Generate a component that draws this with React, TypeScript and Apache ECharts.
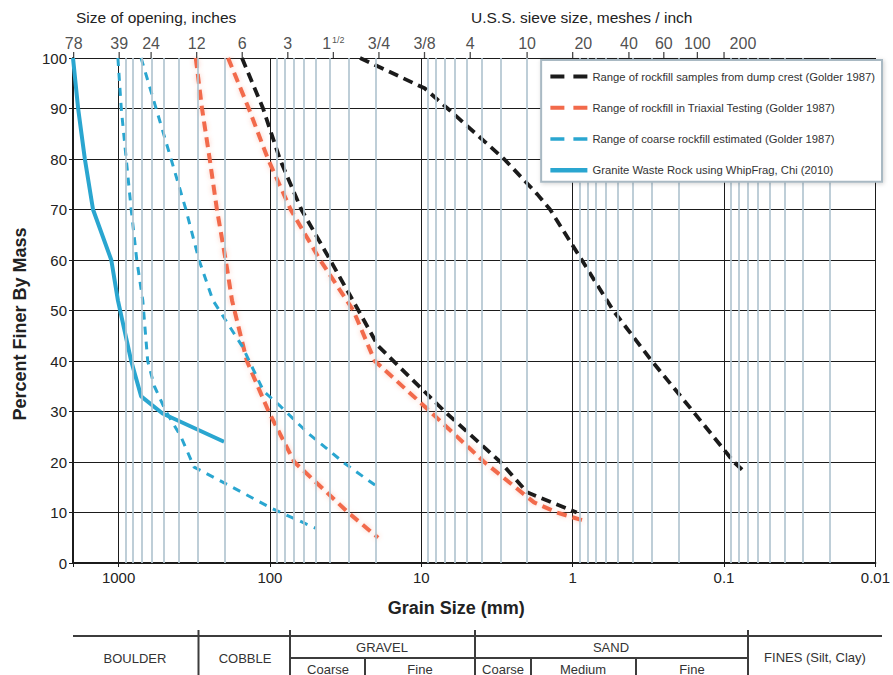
import React, { useEffect, useRef } from "react";
import * as echarts from "echarts";

// ---- data (grain size mm, percent finer) ----
const dumpCrestCoarse = [[153, 100], [111, 90], [86, 80], [62, 70], [40, 60], [26, 50], [19.3, 43], [7.0, 30], [3.0, 20], [2.0, 14], [0.94, 10]];
const dumpCrestFine = [[25.4, 100], [9.5, 94], [6.7, 90], [2.84, 80], [1.71, 73], [1.41, 70], [0.87, 60], [0.54, 50], [0.3, 40], [0.16, 30], [0.086, 20], [0.073, 18]];
const triaxialCoarse = [[309, 100], [281, 90], [250, 80], [224, 70], [196, 60], [178, 52], [142, 40], [102, 30], [69, 20], [30.4, 10], [19.3, 5]];
const triaxialFine = [[189, 100], [138, 90], [103, 80], [73, 70], [46.6, 60], [28.1, 50], [20.3, 40], [9.5, 31], [3.84, 20], [1.8, 12], [1.27, 10], [0.85, 8.4]];
const estimatedCoarse = [[1010, 100], [960, 90], [890, 80], [825, 70], [758, 60], [692, 52], [642, 40], [580, 35], [486, 30], [387, 25], [317, 19], [177, 15], [97, 10.8], [50, 6.9]];
const estimatedFine = [[710, 100], [565, 90], [450, 80], [359, 70], [294, 60], [238, 52], [153, 43], [110, 34], [85, 31], [56, 25.7], [32, 19.7], [19.3, 15]];
const whipFrag = [[2000, 100], [1850, 90], [1670, 80], [1475, 70], [1117, 60], [1010, 52], [825, 40], [709, 33], [512, 29.6], [201, 24]];

const seriesNames = [
  "Range of rockfill samples from dump crest (Golder 1987)",
  "Range of rockfill in Triaxial Testing (Golder 1987)",
  "Range of coarse rockfill estimated (Golder 1987)",
  "Granite Waste Rock using WhipFrag, Chi (2010)",
];

// top axis: opening sizes (inches) and sieve numbers, with their size in mm
const inchLabels = ["78", "39", "24", "12", "6", "3", "1 1/2", "3/4", "3/8"];
const inchMm = [1981.2, 990.6, 609.6, 304.8, 152.4, 76.2, 38.1, 19.05, 9.525];
const sieveLabels = ["4", "10", "20", "40", "60", "100", "200"];
const sieveMm = [4.75, 2.0, 0.85, 0.425, 0.25, 0.15, 0.075];
const topTickMm = [1981.2, 990.6, 609.6, 304.8, 152.4, 76.2, 38.1, 19.05, 9.525, 4.75, 2.0, 1, 0.425, 0.25, 0.15, 0.1];

// minor grid (2..9 within each decade)
const decades = [100, 10, 1, 0.1, 0.01];
const multipliers = [2, 3, 4, 5, 6, 7, 8, 9];

const FONT = "'Liberation Sans', Arial, Helvetica, sans-serif";
const BLACK = "#1b1b1b";
const RED = "#f26a4b";
const CYAN = "#2aa6d0";
const MINOR = "#b3c6d1";

export default function App() {
  const ref = useRef<HTMLDivElement>(null);

  useEffect(() => {
    if (!ref.current) return;
    const chart = echarts.init(ref.current, undefined, { renderer: "svg" });

    const minorLines: any[] = [];
    decades.forEach((d) => multipliers.forEach((m) => minorLines.push({ xAxis: Number((d * m).toPrecision(4)) })));

    const dashedLine = (name: string, data: number[][], color: string, width: number, dash: number[], glow: boolean) => ({
      name,
      type: "line",
      data,
      symbol: "none",
      showSymbol: false,
      z: 3,
      lineStyle: {
        color,
        width,
        type: dash,
        cap: "butt",
        ...(glow ? { shadowColor: "rgba(242,106,75,0.35)", shadowBlur: 5 } : {}),
      },
      itemStyle: { color },
    });

    const topLabelData = [
      ...inchLabels.map((l, i) => ({ value: [inchMm[i], 100], name: l })),
      ...sieveLabels.map((l, i) => ({ value: [sieveMm[i], 100], name: l })),
    ];

    const tableLine = (x1: number, y1: number, x2: number, y2: number, w = 2) => ({
      type: "line",
      silent: true,
      shape: { x1, y1, x2, y2 },
      style: { stroke: "#3c3c3c", lineWidth: w },
    });
    const tableText = (text: string, x: number, y: number) => ({
      type: "text",
      silent: true,
      x,
      y,
      style: { text, fontSize: 13, fontFamily: FONT, fill: "#333", align: "center", verticalAlign: "middle" },
    });

    const legendData = [
      { name: seriesNames[0], lineStyle: { width: 4, type: [14, 9], color: BLACK } },
      { name: seriesNames[1], lineStyle: { width: 4, type: [14, 9], color: RED } },
      { name: seriesNames[2], lineStyle: { width: 3.5, type: [14, 9], color: CYAN } },
      { name: seriesNames[3], lineStyle: { width: 4.5, type: "solid", color: CYAN } },
    ];

    const option: any = {
      animation: false,
      backgroundColor: "#ffffff",
      textStyle: { fontFamily: FONT },
      grid: { left: 73, right: 13, top: 58, bottom: 112, containLabel: false },
      legend: {
        data: legendData,
        orient: "vertical",
        right: 11,
        top: 60,
        itemWidth: 37,
        itemHeight: 14,
        itemGap: 20,
        padding: [11, 7, 6, 7],
        backgroundColor: "#ffffff",
        borderColor: "#a9b9c3",
        borderWidth: 2,
        shadowColor: "rgba(0,0,0,0.18)",
        shadowBlur: 4,
        shadowOffsetX: 1,
        shadowOffsetY: 1,
        selectedMode: false,
        itemStyle: { opacity: 0 },
        textStyle: { fontSize: 11.25, color: "#333", fontFamily: FONT },
        z: 10,
      },
      xAxis: {
        type: "log",
        logBase: 10,
        min: 0.01,
        max: 2000,
        inverse: true,
        name: "Grain Size (mm)",
        nameLocation: "middle",
        nameGap: 36,
        nameTextStyle: { fontSize: 18, fontWeight: "bold", color: "#222", padding: [0, 36, 0, 0] },
        axisLine: { show: true, lineStyle: { color: BLACK, width: 2 } },
        axisTick: { show: true, length: 4, lineStyle: { color: BLACK } },
        axisLabel: {
          fontSize: 15,
          color: "#222",
          margin: 7,
          hideOverlap: false,
          formatter: (v: number) => {
            const l = Math.log10(v);
            if (Math.abs(l - Math.round(l)) > 1e-6) return "";
            return String(Number(v.toPrecision(3)));
          },
        },
        splitLine: { show: true, lineStyle: { color: BLACK, width: 1 } },
      },
      yAxis: {
        type: "value",
        min: 0,
        max: 100,
        interval: 10,
        z: 2,
        name: "Percent Finer By Mass",
        nameLocation: "middle",
        nameGap: 44,
        nameTextStyle: { fontSize: 18, fontWeight: "bold", color: "#222", padding: [0, 27, 0, 0] },
        axisLine: { show: true, lineStyle: { color: BLACK, width: 2 } },
        axisTick: { show: true, length: 4, lineStyle: { color: BLACK } },
        axisLabel: { fontSize: 15, color: "#222", margin: 6 },
        splitLine: { show: true, lineStyle: { color: BLACK, width: 1 } },
      },
      series: [
        {
          name: "minor-grid",
          type: "line",
          data: [],
          symbol: "none",
          z: 1,
          silent: true,
          markLine: {
            silent: true,
            symbol: "none",
            label: { show: false },
            animation: false,
            lineStyle: { color: MINOR, width: 1.7, type: "solid" },
            data: minorLines,
          },
        },
        dashedLine(seriesNames[0], dumpCrestCoarse, BLACK, 3.8, [10, 6], false),
        dashedLine(seriesNames[0], dumpCrestFine, BLACK, 3.8, [10, 6], false),
        dashedLine(seriesNames[1], triaxialCoarse, RED, 4, [10, 6], true),
        dashedLine(seriesNames[1], triaxialFine, RED, 4, [10, 6], true),
        dashedLine(seriesNames[2], estimatedCoarse, CYAN, 3, [8, 7], false),
        dashedLine(seriesNames[2], estimatedFine, CYAN, 3, [8, 7], false),
        {
          name: seriesNames[3],
          type: "line",
          data: whipFrag,
          symbol: "none",
          showSymbol: false,
          z: 3,
          lineStyle: { color: CYAN, width: 4, type: "solid" },
          itemStyle: { color: CYAN },
        },
        {
          name: "top-ticks",
          type: "scatter",
          data: topTickMm.map((m) => [m, 100]),
          symbol: "rect",
          symbolSize: [1.3, 6],
          symbolOffset: [0, -3],
          clip: false,
          silent: true,
          z: 4,
          itemStyle: { color: BLACK },
        },
        {
          name: "top-labels",
          type: "scatter",
          data: topLabelData,
          symbolSize: 1,
          clip: false,
          silent: true,
          z: 4,
          itemStyle: { color: "rgba(0,0,0,0)" },
          label: {
            show: true,
            position: "top",
            distance: 6,
            fontSize: 16,
            color: "#222",
            fontFamily: FONT,
            formatter: (p: any) => (p.name === "1 1/2" ? "{a|1}{b|1/2}" : p.name),
            rich: {
              a: { fontSize: 16, color: "#222", fontFamily: FONT },
              b: { fontSize: 9, color: "#222", fontFamily: FONT, padding: [0, 0, 7, 1] },
            },
          },
        },
      ],
      graphic: [
        {
          type: "text",
          silent: true,
          x: 76,
          y: 17,
          style: { text: "Size of opening, inches", fontSize: 15.5, fontFamily: FONT, fill: "#222", align: "left", verticalAlign: "middle" },
        },
        {
          type: "text",
          silent: true,
          x: 471,
          y: 17,
          style: { text: "U.S.S. sieve size, meshes / inch", fontSize: 15.5, fontFamily: FONT, fill: "#222", align: "left", verticalAlign: "middle" },
        },
        tableLine(73, 636, 882, 636, 2.2),
        tableLine(290, 658, 748, 658, 2),
        tableLine(198.5, 630, 198.5, 675),
        tableLine(290, 630, 290, 675),
        tableLine(475, 630, 475, 675),
        tableLine(748, 630, 748, 675),
        tableLine(365, 658, 365, 675),
        tableLine(531, 658, 531, 675),
        tableLine(636, 658, 636, 675),
        tableText("BOULDER", 135, 658),
        tableText("COBBLE", 245, 658),
        tableText("GRAVEL", 382, 647),
        tableText("SAND", 611, 647),
        tableText("Coarse", 328, 669),
        tableText("Fine", 420, 669),
        tableText("Coarse", 503, 669),
        tableText("Medium", 583, 669),
        tableText("Fine", 692, 669),
        tableText("FINES (Silt, Clay)", 815, 657),
      ],
    };

    chart.setOption(option);
    return () => chart.dispose();
  }, []);

  return <div ref={ref} style={{ position: "fixed", left: 0, top: 0, width: 893, height: 675 }} />;
}
